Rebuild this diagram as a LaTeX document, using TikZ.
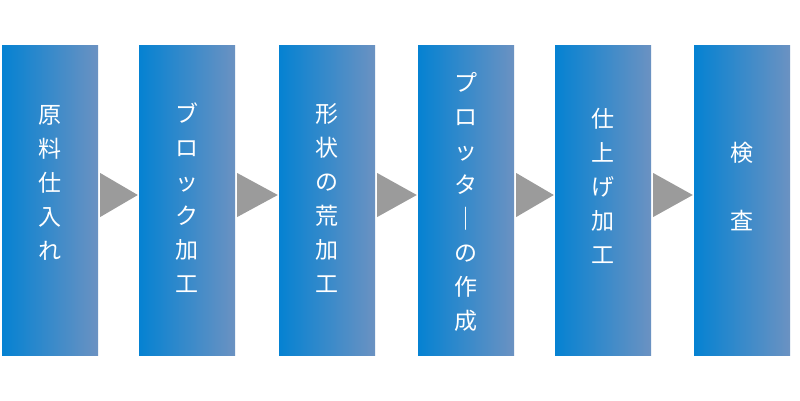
\documentclass[tikz,border=0pt]{standalone}
\usepackage{fontspec}
\setmainfont{Noto Sans CJK JP}
\usetikzlibrary{positioning}
\definecolor{boxleft}{HTML}{0582D2}
\definecolor{boxright}{HTML}{6B92C2}
\definecolor{arrowgray}{HTML}{9B9B9B}

\begin{document}
\begin{tikzpicture}[x=1pt,y=-1pt,
  procbox/.style={minimum width=96pt,minimum height=310.5pt,inner sep=0pt,
    left color=boxleft,right color=boxright},
  steptext/.style={text=white,align=center,inner sep=0pt,
    font=\fontsize{23}{34}\selectfont}]
\useasboundingbox (0,0) rectangle (800,400);
% process boxes
\foreach \i/\x in {1/50,2/187,3/327,4/466,5/603,6/742}
  \node[procbox] (b\i) at (\x,200.25) {};
% labels
\foreach \i/\y/\txt in {1/183/{原\\料\\仕\\入\\れ},
    2/198/{ブ\\ロ\\ッ\\ク\\加\\工},
    3/198/{形\\状\\の\\荒\\加\\工},
    4/202/{プ\\ロ\\ッ\\タ\\｜\\の\\作\\成},
    5/186/{仕\\上\\げ\\加\\工},
    6/187/{検\\　\\査}}
  \node[steptext] (t\i) at (b\i.center |- 0,\y) {\txt};
% arrows between boxes
\foreach \i/\j in {1/2,2/3,3/4,4/5,5/6}
  \fill[arrowgray] ([xshift=2pt]b\i.east |- 0,173) -- ([xshift=-1pt]b\j.west |- 0,195)
    -- ([xshift=2pt]b\i.east |- 0,217) -- cycle;
\end{tikzpicture}
\end{document}
